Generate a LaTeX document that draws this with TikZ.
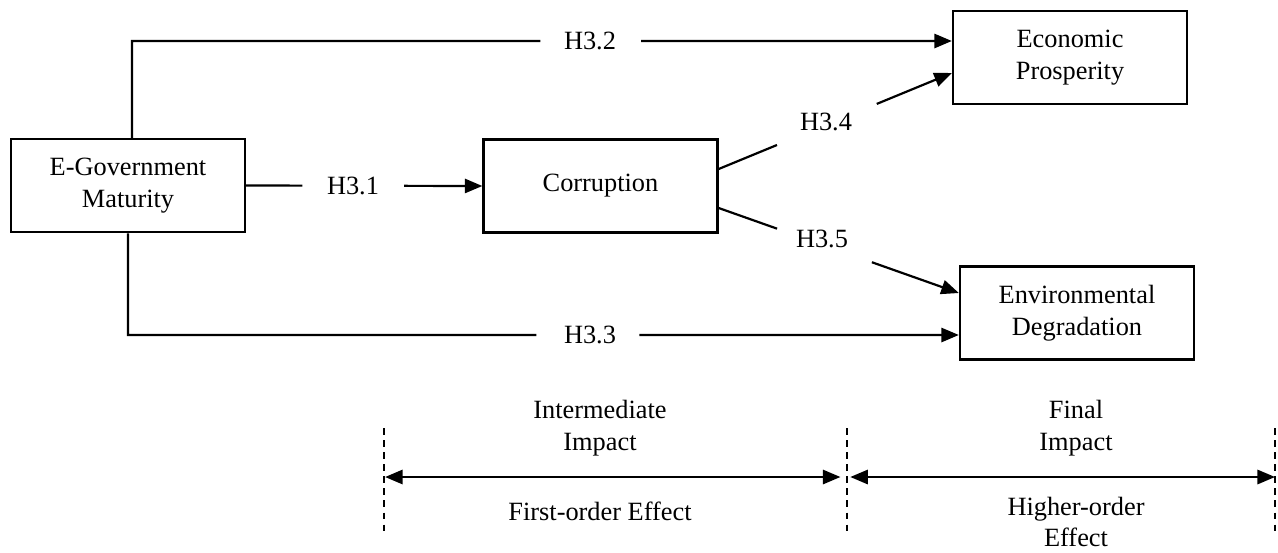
\documentclass[tikz,border=0pt]{standalone}
\usepackage{fontspec}
\setmainfont{Liberation Serif}
\usetikzlibrary{positioning, calc, arrows.meta}

\begin{document}
\begin{tikzpicture}[x=0.016cm, y=-0.016cm, >={Triangle[length=8pt,width=6.5pt]}, line width=1pt,
	fator/.style={draw, line width=1.1pt, minimum width=3.744cm, minimum height=1.49cm, align=center,
		inner sep=0pt, font=\fontsize{12}{14.5}\selectfont},
	hip/.style={font=\fontsize{12}{14.5}\selectfont},
	nivel/.style={align=center, font=\fontsize{12}{14.5}\selectfont},
	limite/.style={line width=0.75pt, dash pattern=on 3pt off 2.5pt} ]
	\useasboundingbox (0,0) rectangle (1278,552);
	
	%Caixas:
	\node[fator] (egov) at (128,185.5) {E-Government\\Maturity};
	\node[fator] (corr) at (600.5,186) {Corruption};
	\node[fator] (econ) at (1070,57.5) {Economic\\Prosperity};
	\node[fator] (env)  at (1077,313)  {Environmental\\Degradation};
	
	%Hipoteses:
	\node[hip] (h31) at (353,185.5) {H3.1};
	\node[hip] (h32) at (590,41)    {H3.2};
	\node[hip] (h33) at (590,335)   {H3.3};
	\node[hip] (h34) at (826,122)   {H3.4};
	\node[hip] (h35) at (822,239)   {H3.5};
	
	%Pontos das setas:
	\coordinate (s2) at ($(egov.north)+(4,0)$);
	\coordinate (e2) at ($(econ.west)+(0,-16.5)$);
	\coordinate (c2) at (s2 |- e2);
	\coordinate (s3) at (egov.south);
	\coordinate (e3) at ($(env.west)+(0,22)$);
	\coordinate (c3) at (s3 |- e3);
	\coordinate (s4) at ($(corr.east)+(0,-17)$);
	\coordinate (e4) at ($(econ.west)+(0,15.5)$);
	\coordinate (s5) at ($(corr.east)+(0,22)$);
	\coordinate (e5) at ($(env.west)+(0,-20)$);
	
	\draw (egov.east) -- ($(egov.east)!0.238!(corr.west)$);
	\draw[->] ($(egov.east)!0.669!(corr.west)$) -- (corr.west);
	
	\draw (s2) -- (c2) -- ($(c2)!0.498!(e2)$);
	\draw[->] ($(c2)!0.621!(e2)$) -- (e2);
	
	\draw (s3) -- (c3) -- ($(c3)!0.4916!(e3)$);
	\draw[->] ($(c3)!0.6154!(e3)$) -- (e3);
	
	\draw (s4) -- ($(s4)!0.25!(e4)$);
	\draw[->] ($(s4)!0.678!(e4)$) -- (e4);
	
	\draw (s5) -- ($(s5)!0.243!(e5)$);
	\draw[->] ($(s5)!0.638!(e5)$) -- (e5);
	
	%Escala de efeitos:
	\foreach \x/\n in {384/1, 847/2, 1275/3} {
		\coordinate (t\n) at (\x,428);
		\coordinate (b\n) at (\x,533);
		\coordinate (m\n) at (\x,477);
		\draw[limite] (t\n) -- (b\n);
	}
	\draw[<->, shorten >=3pt, shorten <=0.5pt] (m1) -- (m2);
	\draw[<->, shorten <=1.5pt] (m2) -- (m3);
	
	\node[nivel] (inter) at (600,428)  {Intermediate\\Impact};
	\node[nivel] (prim)  at (600,511)  {First-order Effect};
	\node[nivel] (final) at (1076,428) {Final\\Impact};
	\node[nivel] (sup)   at (1076,522) {Higher-order\\Effect};
\end{tikzpicture}
\end{document}
